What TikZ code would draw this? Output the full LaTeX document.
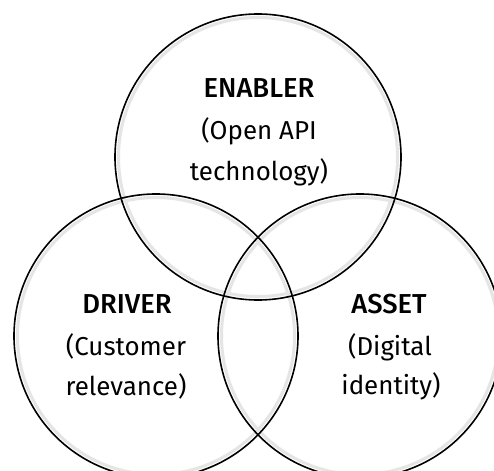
\documentclass[tikz,border=0pt]{standalone}
\usepackage{fontspec}
\setmainfont{Fira Sans}
\newfontfamily\headfont{Fira Sans Medium}
\begin{document}
\begin{tikzpicture}[x=1bp,y=-1bp,
  ring/.style={circle, draw=black, line width=1.6bp, inner sep=0pt, minimum size=#1},
  halo/.style={circle, draw=black!10, line width=3bp, inner sep=0pt, minimum size=#1},
  head/.style={anchor=base, inner sep=0pt, font=\headfont\fontsize{27.5}{30}\selectfont},
  body/.style={anchor=base, inner sep=0pt, font=\fontsize{26}{30}\selectfont}]
\useasboundingbox (0,0) rectangle (494,471);
\clip (0,0) rectangle (494,471);
\fill[white] (0,0) rectangle (494,471);
% soft inner halos
\node[halo=279bp] (h1) at (258,157) {};
\node[halo=277bp] (h2) at (156,336) {};
\node[halo=277bp] (h3) at (360,336) {};
% circles
\node[ring=286bp] (enabler) at (258,157) {};
\node[ring=284bp] (driver) at (156,336) {};
\node[ring=284bp] (asset) at (360,336) {};
% labels
\node[head] (t1) at (259,98) {ENABLER};
\node[body] (t2) at (259,140) {(Open API};
\node[body] (t3) at (259,181) {technology)};
\node[head] (d1) at (127,313) {DRIVER};
\node[body] (d2) at (126,355) {(Customer};
\node[body] (d3) at (126,395) {relevance)};
\node[head] (a1) at (389,313) {ASSET};
\node[body] (a2) at (390,355) {(Digital};
\node[body] (a3) at (391,394) {identity)};
\end{tikzpicture}
\end{document}
